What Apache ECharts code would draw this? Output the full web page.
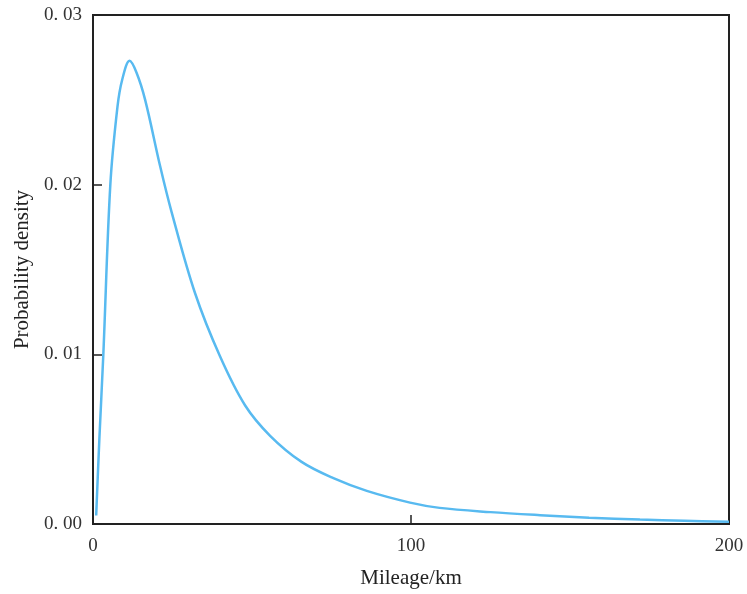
<!DOCTYPE html>
<html>
<head>
<meta charset="utf-8">
<script src="https://cdn.jsdelivr.net/npm/echarts@6/dist/echarts.min.js"></script>
<style>
  html, body { margin: 0; padding: 0; background: #fff; }
  #chart { width: 747px; height: 594px; }
</style>
</head>
<body>
<div id="chart"></div>
<script>
// 里程 (km) 与概率密度，读自原图
var mileage = [1, 2, 3.25, 5.45, 7.7, 9.2, 11.5, 13.7, 16.4, 21.1, 24.7, 32.1, 39.9, 47.8, 55.7, 65.6, 75.6, 86.1, 99.7, 109, 125, 140.6, 156, 172, 186, 200];
var density = [0.0005, 0.0050, 0.0100, 0.0200, 0.0246, 0.0262, 0.0273, 0.0266, 0.0250, 0.0211, 0.0184, 0.0136, 0.0099, 0.0070, 0.0052, 0.00366, 0.0027, 0.00195, 0.00126, 0.00095, 0.0007, 0.00052, 0.00037, 0.00026, 0.00019, 0.00013];
var xTicks = [0, 100, 200];
var yTicks = [0, 0.01, 0.02, 0.03];

var points = [];
for (var i = 0; i < mileage.length; i++) {
    points.push([mileage[i], density[i]]);
}

var font = '"Liberation Serif", "DejaVu Serif", serif';
var myChart = echarts.init(document.getElementById('chart'));
myChart.setOption({
    animation: false,
    grid: {
        left: 93, right: 18, top: 15, bottom: 69,
        show: true,
        borderColor: '#222',
        borderWidth: 2
    },
    xAxis: {
        type: 'value',
        min: xTicks[0],
        max: xTicks[xTicks.length - 1],
        interval: 100,
        name: 'Mileage/km',
        nameLocation: 'middle',
        nameGap: 44,
        nameTextStyle: { fontFamily: font, fontSize: 21, color: '#222' },
        axisLine: { lineStyle: { color: '#222', width: 2 } },
        axisTick: { inside: true, length: 9, lineStyle: { color: '#222', width: 1.5 } },
        axisLabel: { fontFamily: font, fontSize: 19, color: '#333', margin: 13 },
        splitLine: { show: false }
    },
    yAxis: {
        type: 'value',
        min: yTicks[0],
        max: yTicks[yTicks.length - 1],
        interval: 0.01,
        name: 'Probability density',
        nameLocation: 'middle',
        nameGap: 60,
        nameTextStyle: { fontFamily: font, fontSize: 21, color: '#222' },
        axisLine: { show: true, lineStyle: { color: '#222', width: 2 } },
        axisTick: { show: true, inside: true, length: 9, lineStyle: { color: '#222', width: 1.5 } },
        axisLabel: {
            fontFamily: font, fontSize: 19, color: '#333', margin: 11,
            formatter: function (v) {
                return v.toFixed(2).replace('.', '. ');
            }
        },
        splitLine: { show: false }
    },
    series: [{
        type: 'line',
        data: points,
        smooth: 0.35,
        symbol: 'none',
        lineStyle: { color: '#58baf0', width: 2.5 }
    }]
});
</script>
</body>
</html>
